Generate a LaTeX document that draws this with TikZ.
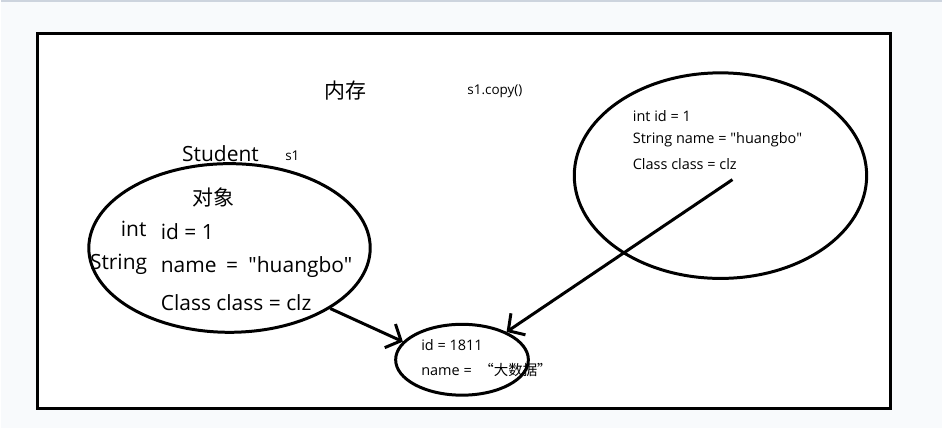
\documentclass[tikz,border=0pt]{standalone}
\usepackage{fontspec}
\newfontfamily\latinf{Open Sans}
\newfontfamily\cjk{Noto Sans CJK SC}
\usetikzlibrary{shapes.geometric,arrows.meta}
\definecolor{bgpale}{RGB}{248,250,252}
\definecolor{topline}{RGB}{205,212,222}
\begin{document}
\begin{tikzpicture}[x=1pt,y=-1pt,
  oval/.style={draw=black,line width=3pt,ellipse,inner sep=0pt},
  big/.style={font=\latinf\fontsize{21}{24}\selectfont,inner sep=0pt},
  small/.style={font=\latinf\fontsize{14.5}{16}\selectfont,inner sep=0pt,anchor=west},
  tiny/.style={font=\latinf\fontsize{13.5}{15}\selectfont,inner sep=0pt},
  link/.style={line width=3pt,-{Straight Barb[length=12pt,width=26pt,line width=3pt]}}]
\fill[bgpale] (0,0) rectangle (943,428);
\draw[topline,line width=2pt] (0,0) -- (943,0);
\node[draw=black,fill=white,line width=3pt,minimum width=854pt,minimum height=375pt,inner sep=0pt] (frame) at (464,220.5) {};
% ellipses
\node[oval,minimum width=282pt,minimum height=169pt] (lell) at (229,247.5) {};
\node[oval,minimum width=293pt,minimum height=206pt] (rell) at (721,175) {};
\node[oval,minimum width=133pt,minimum height=71pt] (sell) at (462,359.5) {};
% titles
\node[inner sep=0pt,font=\cjk\fontsize{21}{24}\selectfont] (mem) at (345,90) {内存};
\node[tiny] (copy) at (495,90) {s1.copy()};
\node[big] (stu) at (220,153) {Student};
\node[tiny] (s1) at (292,155) {s1};
% left object
\node[inner sep=0pt,font=\cjk\fontsize{21}{24}\selectfont] (obj) at (213,197) {对象};
\node[big] (tint) at (133,228) {int};
\node[big,anchor=west] (fid) at (160,231) {id = 1};
\node[big,anchor=west] (tstr) at (89,264) {String};
\node[big,anchor=west] (fname) at (160,267) {name\hspace{4pt} =\hspace{5pt} "huangbo"};
\node[big,anchor=west] (fcls) at (160,302) {Class class = clz};
% right object
\node[small] (rid) at (633,115) {int id = 1};
\node[small] (rname) at (633,139) {String name = "huangbo"};
\node[small] (rcls) at (633,163) {Class class = clz};
% shared object
\node[small] (sid) at (421,345) {id = 1811};
\node[small] (sname) at (421,370) {name =\ \ {\cjk “大数据”}};
% connectors
\coordinate (rstart) at (733,179);
\draw[link] (lell.-31) -- (sell.163);
\draw[link] (rstart) -- (sell.32);
\end{tikzpicture}
\end{document}
